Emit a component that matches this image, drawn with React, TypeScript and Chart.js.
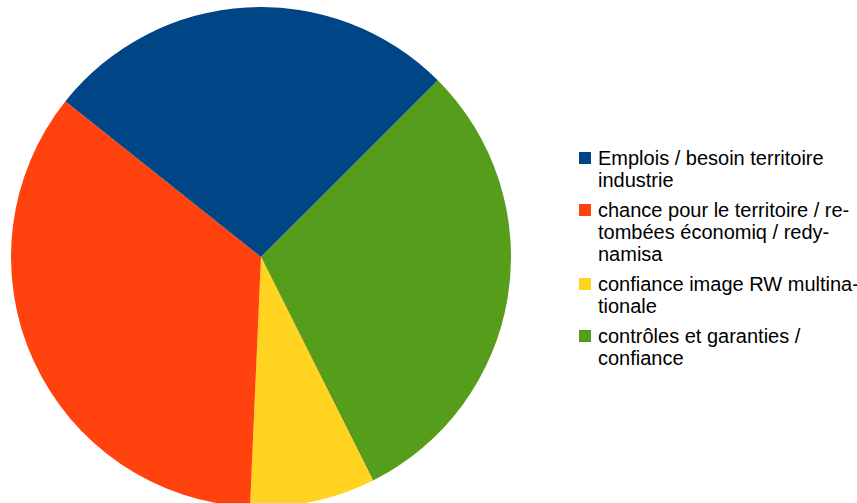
import React, { useEffect, useRef } from "react";
import { Chart, registerables } from "chart.js";

Chart.register(...registerables);

// Categories in legend order
const categories = [
  "Emplois / besoin territoire industrie",
  "chance pour le territoire / retombées économiq / redynamisa",
  "confiance image RW multinationale",
  "contrôles et garanties / confiance",
];
// Legend text as displayed (wrapped/hyphenated)
const legendLines = [
  ["Emplois / besoin territoire", "industrie"],
  ["chance pour le territoire / re-", "tombées économiq / redy-", "namisa"],
  ["confiance image RW multina-", "tionale"],
  ["contrôles et garanties /", "confiance"],
];
// Share of answers (%)
const values = [26.8, 35.0, 8.1, 30.1];
const colors = ["#004586", "#ff420e", "#ffd320", "#579d1c"];

export default function App() {
  const ref = useRef<HTMLCanvasElement | null>(null);

  useEffect(() => {
    document.body.style.margin = "0";
    if (!ref.current) return;
    // LibreOffice draws counter-clockwise: reverse the order for Chart.js (clockwise)
    const rLabels = [...categories].reverse();
    const rValues = [...values].reverse();
    const rColors = [...colors].reverse();
    const chart = new Chart(ref.current, {
      type: "pie",
      data: {
        labels: rLabels,
        datasets: [
          {
            data: rValues,
            backgroundColor: rColors,
            borderWidth: 0,
          },
        ],
      },
      options: {
        animation: false,
        responsive: false,
        rotation: 45,
        layout: { padding: 0 },
        plugins: {
          legend: { display: false },
          tooltip: { enabled: false },
        },
      },
    });
    return () => chart.destroy();
  }, []);

  return (
    <div
      style={{
        position: "fixed",
        left: 0,
        top: 0,
        width: 857,
        height: 503,
        overflow: "hidden",
        background: "#ffffff",
      }}
    >
      <canvas
        ref={ref}
        width={500}
        height={500}
        style={{ position: "absolute", left: 11, top: 7, width: 500, height: 500 }}
      />
      <div
        style={{
          position: "absolute",
          left: 579,
          top: 147,
          fontFamily: '"Liberation Sans", Arial, sans-serif',
          fontSize: 20,
          lineHeight: "22px",
          color: "#000",
        }}
      >
        {legendLines.map((lines, i) => (
          <div key={i} style={{ position: "relative", paddingLeft: 19, marginBottom: 8 }}>
            <span
              style={{
                position: "absolute",
                left: 0,
                top: 5,
                width: 12,
                height: 12,
                background: colors[i],
              }}
            />
            {lines.map((l, j) => (
              <div key={j} style={{ whiteSpace: "nowrap" }}>
                {l}
              </div>
            ))}
          </div>
        ))}
      </div>
    </div>
  );
}
